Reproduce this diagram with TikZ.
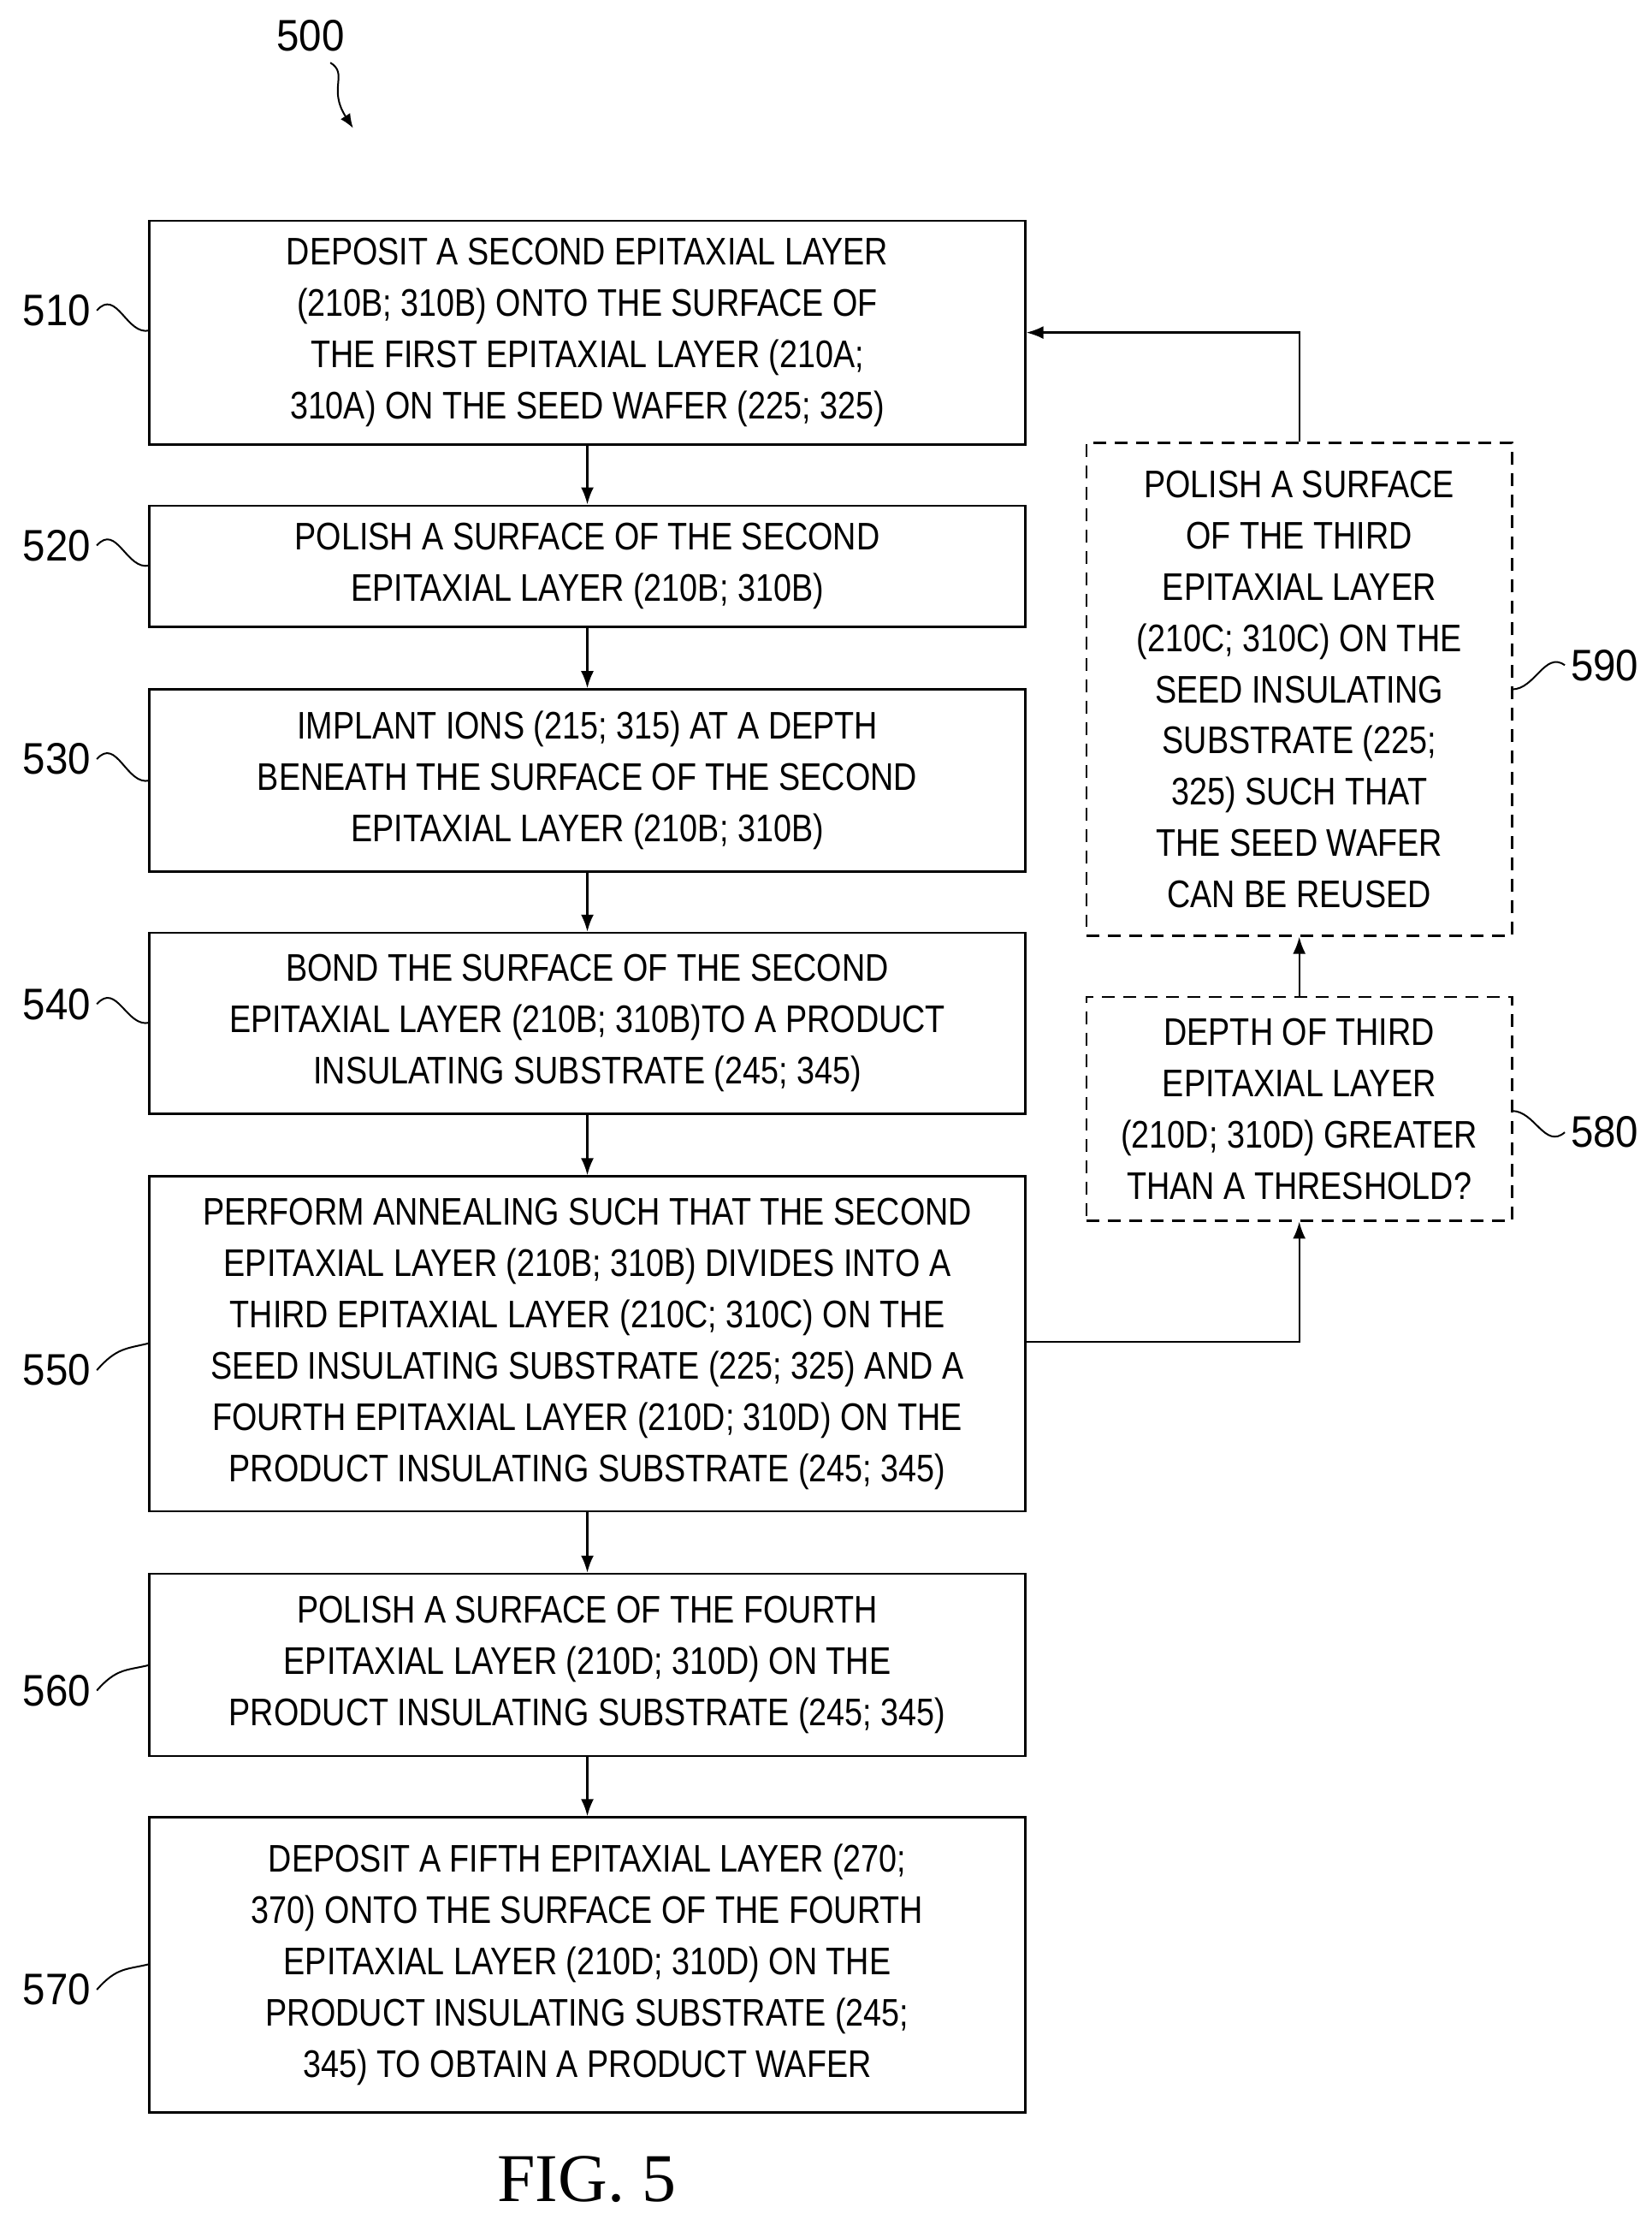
\documentclass[tikz,border=0pt]{standalone}
\usepackage{fontspec}
\setmainfont[FakeStretch=0.84]{Liberation Sans}
\newfontfamily\labfont[FakeStretch=0.92]{Liberation Sans}
\newfontfamily\figfont{Liberation Serif}
\usetikzlibrary{arrows.meta}
\begin{document}
\begin{tikzpicture}[x=1pt,y=-1pt,
  box/.style={draw,line width=1.6pt,align=center,inner sep=0pt,font=\fontsize{27}{36}\selectfont},
  dbox/.style={box,dash pattern=on 9pt off 6pt,line width=1.4pt},
  arr/.style={line width=1.4pt,-{Latex[length=12pt,width=9pt]}},
  lab/.style={font=\labfont\fontsize{31}{34}\selectfont,inner sep=0pt},
  sq/.style={line width=1.2pt}]
\useasboundingbox (0,0) rectangle (1160,1558);
\newcommand\bx[6]{\node[#1,minimum width=#3,minimum height=#4] (#2) at (#5) {#6};}
\bx{box}{b510}{615pt}{157pt}{412.5,233.5}{DEPOSIT A SECOND EPITAXIAL LAYER\\(210B; 310B) ONTO THE SURFACE OF\\THE FIRST EPITAXIAL LAYER (210A;\\310A) ON THE SEED WAFER (225; 325)}
\bx{box}{b520}{615pt}{85pt}{412.5,397.5}{POLISH A SURFACE OF THE SECOND\\EPITAXIAL LAYER (210B; 310B)}
\bx{box}{b530}{615pt}{128pt}{412.5,548}{IMPLANT IONS (215; 315) AT A DEPTH\\BENEATH THE SURFACE OF THE SECOND\\EPITAXIAL LAYER (210B; 310B)}
\bx{box}{b540}{615pt}{127pt}{412.5,718.5}{BOND THE SURFACE OF THE SECOND\\EPITAXIAL LAYER (210B; 310B)TO A PRODUCT\\INSULATING SUBSTRATE (245; 345)}
\bx{box}{b550}{615pt}{235pt}{412.5,943.5}{PERFORM ANNEALING SUCH THAT THE SECOND\\EPITAXIAL LAYER (210B; 310B) DIVIDES INTO A\\THIRD EPITAXIAL LAYER (210C; 310C) ON THE\\SEED INSULATING SUBSTRATE (225; 325) AND A\\FOURTH EPITAXIAL LAYER (210D; 310D) ON THE\\PRODUCT INSULATING SUBSTRATE (245; 345)}
\bx{box}{b560}{615pt}{128pt}{412.5,1169}{POLISH A SURFACE OF THE FOURTH\\EPITAXIAL LAYER (210D; 310D) ON THE\\PRODUCT INSULATING SUBSTRATE (245; 345)}
\bx{box}{b570}{615pt}{207pt}{412.5,1379.5}{DEPOSIT A FIFTH EPITAXIAL LAYER (270;\\370) ONTO THE SURFACE OF THE FOURTH\\EPITAXIAL LAYER (210D; 310D) ON THE\\PRODUCT INSULATING SUBSTRATE (245;\\345) TO OBTAIN A PRODUCT WAFER}
\bx{dbox}{b590}{299pt}{346pt}{912.5,484}{POLISH A SURFACE\\OF THE THIRD\\EPITAXIAL LAYER\\(210C; 310C) ON THE\\SEED INSULATING\\SUBSTRATE (225;\\325) SUCH THAT\\THE SEED WAFER\\CAN BE REUSED}
\bx{dbox}{b580}{299pt}{157pt}{912.5,778.5}{DEPTH OF THIRD\\EPITAXIAL LAYER\\(210D; 310D) GREATER\\THAN A THRESHOLD?}
\draw[arr] (b510) -- (b520);
\draw[arr] (b520) -- (b530);
\draw[arr] (b530) -- (b540);
\draw[arr] (b540) -- (b550);
\draw[arr] (b550) -- (b560);
\draw[arr] (b560) -- (b570);
\draw[arr] (b550.east |- 0,942) -| (b580.south);
\draw[arr] (b580) -- (b590);
\draw[arr] (b590.north) |- (b510.east);
\foreach \n/\y/\by in {510/218/232,520/383/397,530/533/548,540/705/718,550/962/943,560/1187/1169,570/1397/1379}{
  \node[lab,anchor=east] (l\n) at (64,\y) {\n};
  \coordinate (c\n) at (105,\by);
  \draw[sq] (l\n.east) ++(4,0) coordinate (s\n) .. controls +(14,-16) and +(-16,4) .. (c\n);
}
\node[lab,anchor=west] (l590) at (1103,467) {590};
\coordinate (c590) at (1062,484);
\draw[sq] (l590.west) ++(-4,0) .. controls +(-14,-10) and +(16,0) .. (c590);
\node[lab,anchor=west] (l580) at (1103,795) {580};
\coordinate (c580) at (1062,780);
\draw[sq] (l580.west) ++(-4,0) .. controls +(-14,12) and +(16,0) .. (c580);
\node[lab] (l500) at (218,25) {500};
\coordinate (e500) at (248,90);
\draw[sq,-{Latex[length=10pt,width=8pt]}] (232,44) .. controls (245,52) and (230,62) .. (e500);
\node[font=\figfont\fontsize{48}{52}\selectfont,inner sep=0pt] (fig) at (412,1530) {FIG. 5};
\end{tikzpicture}
\end{document}
